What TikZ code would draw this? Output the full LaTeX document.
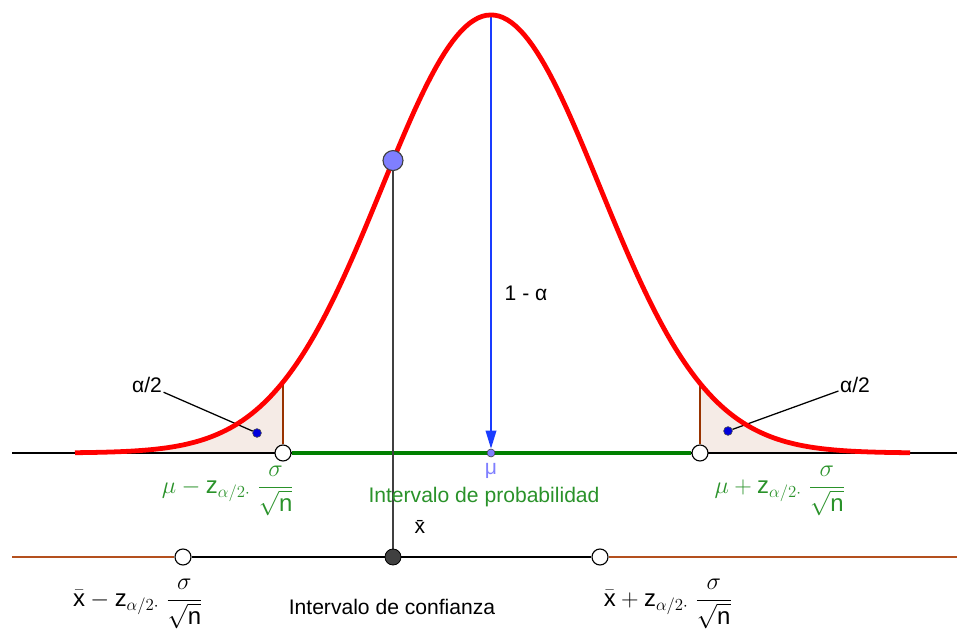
\documentclass[tikz,border=0pt]{standalone}
\usepackage{amsmath}
\usepackage{fontspec}
\setmainfont{Liberation Sans}
\usetikzlibrary{arrows.meta,backgrounds}
\definecolor{ggred}{HTML}{FF0000}
\definecolor{gggreen}{HTML}{008000}
\definecolor{ggtext}{HTML}{2A922A}
\definecolor{ggbrown}{HTML}{993300}
\definecolor{ggrust}{HTML}{B4501E}
\definecolor{ggblue}{HTML}{1A3CFF}
\definecolor{ggpt}{HTML}{7F7FFF}
\definecolor{ggdot}{HTML}{0000DD}
\definecolor{ggdark}{HTML}{404040}
\definecolor{ggshade}{HTML}{F5EBE6}
\tikzset{
  declare function={bell(\t)=453-438*exp(-((\t-491)/109)^2/2);},
  crv/.style={draw=ggred, line width=3.4pt},
  tail/.style={fill=ggshade},
  brn/.style={draw=ggbrown, line width=1.3pt},
  axis/.style={draw=black, line width=1.8pt},
  rust/.style={draw=ggrust, line width=1.6pt},
  grn/.style={draw=gggreen, line width=2.8pt},
  stem/.style={draw=ggdark, line width=1.4pt},
  ptr/.style={draw=black, line width=0.9pt},
  arrb/.style={draw=ggblue, line width=1.5pt, -{Triangle[length=4.5mm,width=2.6mm]}},
  opn/.style={circle, draw=black, line width=0.8pt, fill=white, minimum size=4mm, inner sep=0pt},
  bpt/.style={circle, draw=ggdark, line width=0.8pt, fill=ggpt, minimum size=5mm, inner sep=0pt},
  dpt/.style={circle, draw=black, line width=0.6pt, fill=ggdark, minimum size=4mm, inner sep=0pt},
  sdot/.style={circle, draw=black!70, line width=0.4pt, fill=ggdot, minimum size=2.2mm, inner sep=0pt},
  mpt/.style={circle, draw=ggdark, line width=0.4pt, fill=ggpt, minimum size=2mm, inner sep=0pt},
  lbl/.style={inner sep=1pt},
  fml/.style={inner sep=0pt, font=\fontsize{17}{20}\selectfont},
  frm/.style={fml, text=ggtext},
}
\newcommand{\zterm}{\mbox{z}_{\alpha/2\cdot}\;}
\begin{document}
\begin{tikzpicture}[x=0.025cm, y=-0.025cm, font=\fontsize{15}{18}\selectfont]
  \useasboundingbox (0,0) rectangle (957,629);
  % ends of the two lines
  \coordinate (bl) at (12,453);
  \coordinate (br) at (957,453);
  \coordinate (cl) at (12,557);
  \coordinate (cr) at (957,557);
  \coordinate (top) at (491,15);
  \coordinate (lotop) at (283,{bell(283)});
  \coordinate (hitop) at (700,{bell(700)});
  % points
  \node[opn] (lo) at (283,453) {};
  \node[opn] (hi) at (700,453) {};
  \node[mpt] (mu) at (491,453) {};
  \node[bpt] (xb) at (393,{bell(393)}) {};
  \node[dpt] (xd) at (393,557) {};
  \foreach \nm/\x in {cilo/183, cihi/600}
    \node[opn] (\nm) at (\x,557) {};
  \node[sdot] (dl) at (257,433) {};
  \node[sdot] (dr) at (728,431) {};
  % labels
  \node[lbl] (al) at (147,385) {α/2};
  \node[lbl] (ar) at (855,385) {α/2};
  \node[lbl, anchor=west] (oma) at (503,293) {1 - α};
  \node[lbl, text=ggpt] (mul) at (491,471) {μ};
  \node[lbl, text=ggtext] (pint) at (484,497) {Intervalo de probabilidad};
  \node[lbl] (xbl) at (420,527) {\=x};
  \node[lbl] (cint) at (392,607) {Intervalo de confianza};
  \node[frm] (lof) at (228,491) {$\mu - \zterm\dfrac{\sigma}{\sqrt{\mbox{n}}}$};
  \node[frm] (hif) at (780,491) {$\mu + \zterm\dfrac{\sigma}{\sqrt{\mbox{n}}}$};
  \node[fml] (cilof) at (138,604) {$\bar{\mbox{x}} - \zterm\dfrac{\sigma}{\sqrt{\mbox{n}}}$};
  \node[fml] (cihif) at (668,604) {$\bar{\mbox{x}} + \zterm\dfrac{\sigma}{\sqrt{\mbox{n}}}$};
  \begin{scope}[on background layer]
    \fill[tail] (75,453) -- plot[domain=75:283, samples=60] (\x,{bell(\x)}) -- (283,453) -- cycle;
    \fill[tail] (700,453) -- plot[domain=700:910, samples=60] (\x,{bell(\x)}) -- (910,453) -- cycle;
    \draw[axis] (bl) -- (br);
    \draw[grn] (lo) -- (hi);
    \draw[brn] (lo) -- (lotop);
    \draw[brn] (hi) -- (hitop);
    \draw[rust] (cl) -- (cilo);
    \draw[rust] (cihi) -- (cr);
    \draw[axis] (cilo) -- (cihi);
    \draw[stem] (xb) -- (xd);
    \draw[arrb] (top) -- (mu);
    \draw[ptr] (al) -- (dl);
    \draw[ptr] (ar) -- (dr);
    \draw[crv] plot[domain=75:910, samples=200] (\x,{bell(\x)});
  \end{scope}
\end{tikzpicture}
\end{document}
